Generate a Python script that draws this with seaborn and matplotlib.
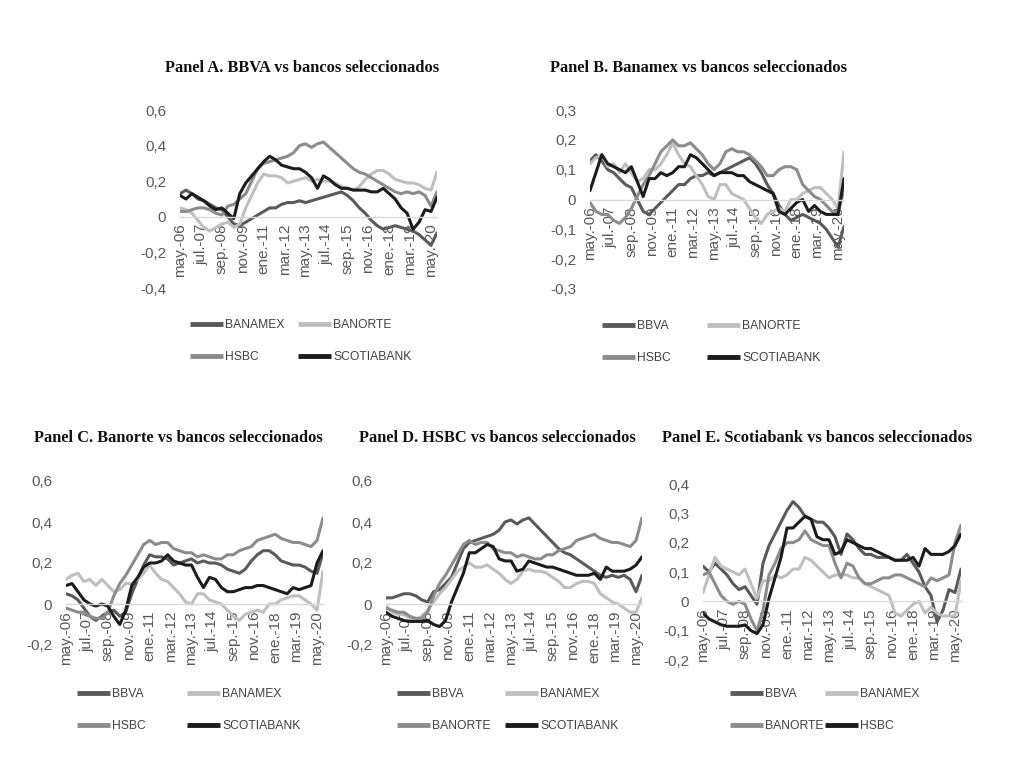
import numpy as np
import pandas as pd
import matplotlib
matplotlib.use("Agg")
import matplotlib.pyplot as plt
from matplotlib.lines import Line2D
from matplotlib.ticker import FuncFormatter
import seaborn as sns

# meses desde may-2006, un dato cada 4 meses
MESES = list(range(0, 173, 4))
TICKS_X = list(range(0, 169, 14))
ETIQUETAS_X = ["may.-06", "jul.-07", "sep.-08", "nov.-09", "ene.-11", "mar.-12", "may.-13",
               "jul.-14", "sep.-15", "nov.-16", "ene.-18", "mar.-19", "may.-20"]

# correlaciones por par de bancos
bbva_banamex = [0.13, 0.15, 0.13, 0.10, 0.09, 0.07, 0.05, 0.04, 0.00, -0.04, -0.05,
                -0.03, -0.01, 0.01, 0.03, 0.05, 0.05, 0.07, 0.08, 0.08, 0.09, 0.08,
                0.09, 0.10, 0.11, 0.12, 0.13, 0.14, 0.12, 0.09, 0.05, 0.02, -0.02,
                -0.05, -0.07, -0.06, -0.05, -0.06, -0.07, -0.08, -0.10, -0.13, -0.16, -0.09]
bbva_banorte = [0.05, 0.04, 0.02, -0.02, -0.06, -0.08, -0.06, -0.04, -0.03, -0.06, -0.04,
                0.05, 0.12, 0.19, 0.24, 0.23, 0.23, 0.22, 0.19, 0.20, 0.21, 0.22,
                0.20, 0.21, 0.20, 0.20, 0.19, 0.17, 0.16, 0.15, 0.17, 0.21, 0.24,
                0.26, 0.26, 0.24, 0.21, 0.20, 0.19, 0.19, 0.18, 0.16, 0.15, 0.25]
bbva_hsbc = [0.03, 0.03, 0.04, 0.05, 0.05, 0.04, 0.02, 0.01, 0.06, 0.07, 0.10,
             0.13, 0.20, 0.27, 0.30, 0.31, 0.32, 0.33, 0.34, 0.36, 0.40, 0.41,
             0.39, 0.41, 0.42, 0.39, 0.36, 0.33, 0.30, 0.27, 0.25, 0.24, 0.22,
             0.20, 0.18, 0.16, 0.14, 0.13, 0.14, 0.13, 0.14, 0.12, 0.06, 0.14]
bbva_scotia = [0.12, 0.10, 0.13, 0.11, 0.09, 0.06, 0.04, 0.05, 0.02, -0.01, 0.13,
               0.19, 0.23, 0.27, 0.31, 0.34, 0.32, 0.29, 0.28, 0.27, 0.27, 0.25,
               0.22, 0.16, 0.23, 0.21, 0.18, 0.16, 0.16, 0.15, 0.15, 0.15, 0.14,
               0.14, 0.16, 0.13, 0.10, 0.05, 0.02, -0.07, -0.03, 0.04, 0.03, 0.11]
banamex_banorte = [0.12, 0.14, 0.15, 0.11, 0.12, 0.09, 0.12, 0.09, 0.06, 0.07, 0.10,
                   0.10, 0.12, 0.15, 0.19, 0.15, 0.12, 0.11, 0.08, 0.05, 0.01, 0.00,
                   0.05, 0.05, 0.02, 0.01, 0.00, -0.03, -0.06, -0.08, -0.05, -0.04, -0.03,
                   -0.04, 0.00, 0.00, 0.02, 0.03, 0.04, 0.04, 0.02, 0.00, -0.03, 0.16]
banamex_hsbc = [-0.01, -0.04, -0.05, -0.05, -0.07, -0.08, -0.06, -0.03, 0.01, 0.05, 0.08,
                0.12, 0.16, 0.18, 0.20, 0.18, 0.18, 0.19, 0.17, 0.15, 0.12, 0.10,
                0.12, 0.16, 0.17, 0.16, 0.16, 0.15, 0.13, 0.11, 0.08, 0.08, 0.10,
                0.11, 0.11, 0.10, 0.05, 0.03, 0.01, 0.00, -0.02, -0.04, -0.04, 0.03]
banamex_scotia = [0.03, 0.09, 0.15, 0.12, 0.11, 0.10, 0.09, 0.11, 0.06, 0.01, 0.07,
                  0.07, 0.09, 0.08, 0.09, 0.11, 0.11, 0.15, 0.14, 0.12, 0.10, 0.08,
                  0.09, 0.09, 0.09, 0.08, 0.08, 0.06, 0.05, 0.04, 0.03, 0.02, -0.04,
                  -0.05, -0.03, -0.01, 0.00, -0.04, -0.02, -0.04, -0.05, -0.05, -0.05, 0.07]
banorte_hsbc = [-0.02, -0.03, -0.04, -0.04, -0.06, -0.07, -0.07, -0.04, 0.04, 0.10, 0.14,
                0.19, 0.24, 0.29, 0.31, 0.29, 0.30, 0.30, 0.27, 0.26, 0.25, 0.25,
                0.23, 0.24, 0.23, 0.22, 0.22, 0.24, 0.24, 0.26, 0.27, 0.28, 0.31,
                0.32, 0.33, 0.34, 0.32, 0.31, 0.30, 0.30, 0.29, 0.28, 0.31, 0.42]
banorte_scotia = [0.09, 0.10, 0.06, 0.02, 0.00, -0.01, 0.00, -0.01, -0.06, -0.10, -0.03,
                  0.09, 0.13, 0.18, 0.20, 0.20, 0.21, 0.24, 0.21, 0.20, 0.19, 0.19,
                  0.13, 0.08, 0.13, 0.12, 0.08, 0.06, 0.06, 0.07, 0.08, 0.08, 0.09,
                  0.09, 0.08, 0.07, 0.06, 0.05, 0.08, 0.07, 0.08, 0.09, 0.20, 0.26]
hsbc_scotia = [-0.04, -0.06, -0.07, -0.08, -0.085, -0.085, -0.085, -0.08, -0.10, -0.11, -0.08,
               0.01, 0.08, 0.15, 0.25, 0.25, 0.27, 0.29, 0.28, 0.22, 0.21, 0.21,
               0.16, 0.17, 0.21, 0.20, 0.19, 0.18, 0.18, 0.17, 0.16, 0.15, 0.14,
               0.14, 0.14, 0.15, 0.12, 0.18, 0.16, 0.16, 0.16, 0.17, 0.19, 0.23]

TITULOS = ["Panel A. BBVA vs bancos seleccionados",
           "Panel B. Banamex vs bancos seleccionados",
           "Panel C. Banorte vs bancos seleccionados",
           "Panel D. HSBC vs bancos seleccionados",
           "Panel E. Scotiabank vs bancos seleccionados"]
BANCOS = [["BANAMEX", "BANORTE", "HSBC", "SCOTIABANK"],
          ["BBVA", "BANORTE", "HSBC", "SCOTIABANK"],
          ["BBVA", "BANAMEX", "HSBC", "SCOTIABANK"],
          ["BBVA", "BANAMEX", "BANORTE", "SCOTIABANK"],
          ["BBVA", "BANAMEX", "BANORTE", "HSBC"]]
SERIES = [[bbva_banamex, bbva_banorte, bbva_hsbc, bbva_scotia],
          [bbva_banamex, banamex_banorte, banamex_hsbc, banamex_scotia],
          [bbva_banorte, banamex_banorte, banorte_hsbc, banorte_scotia],
          [bbva_hsbc, banamex_hsbc, banorte_hsbc, hsbc_scotia],
          [bbva_scotia, banamex_scotia, banorte_scotia, hsbc_scotia]]
RANGOS_Y = [(-0.4, 0.6, 0.2), (-0.3, 0.3, 0.1), (-0.2, 0.6, 0.2), (-0.2, 0.6, 0.2), (-0.2, 0.4, 0.1)]

COLORES = ["#5a5a5a", "#bfbfbf", "#8c8c8c", "#1c1c1c"]

# posiciones en pixeles: (izq, arriba, der, abajo) del area de trazado
CAJAS = [(180, 110, 437, 288), (590, 110, 844, 289), (66, 481, 323, 645),
         (386, 481, 642, 645), (703, 484, 961, 660)]
POS_TITULO = [(302, 68), (698, 68), (178, 438), (497, 438), (817, 438)]
POS_LEYENDA = [(190, 298, 325), (602, 707, 326), (77, 187, 694), (397, 505, 694), (730, 825, 694)]

W, H = 1022, 769
sns.set_style("white")
plt.rcParams["font.family"] = ["Liberation Sans", "DejaVu Sans"]

fig = plt.figure(figsize=(W / 100, H / 100), dpi=100)


def fx(px):
    return px / W


def fy(py):
    return 1 - py / H


def fmt_y(v, _):
    if abs(v) < 1e-9:
        return "0"
    return f"{v:.1f}".replace(".", ",")


for i in range(5):
    l, t, r, b = CAJAS[i]
    ax = fig.add_axes([fx(l), fy(b), fx(r) - fx(l), fy(t) - fy(b)])
    df = pd.concat([pd.DataFrame({"mes": MESES, "rho": s, "banco": n})
                    for n, s in zip(BANCOS[i], SERIES[i])], ignore_index=True)
    sns.lineplot(data=df, x="mes", y="rho", hue="banco", hue_order=BANCOS[i],
                 palette=COLORES, linewidth=2.2, legend=False, ax=ax)

    lo, hi, paso = RANGOS_Y[i]
    ax.set_xlim(0, 172)
    ax.set_ylim(lo, hi)
    for lado in ["top", "right", "left"]:
        ax.spines[lado].set_visible(False)
    # set_position reinicia los ticks, por eso va antes del formato
    ax.spines["bottom"].set_position(("data", 0))
    ax.spines["bottom"].set_color("#d9d9d9")
    ax.spines["bottom"].set_linewidth(1.0)
    ax.set_yticks(np.round(np.arange(lo, hi + paso / 2, paso), 2))
    ax.yaxis.set_major_formatter(FuncFormatter(fmt_y))
    ax.set_xticks(TICKS_X)
    ax.set_xticklabels(ETIQUETAS_X)
    ax.set_xlabel("")
    ax.set_ylabel("")
    ax.set_axisbelow(True)
    ax.tick_params(axis="x", length=3, color="#d9d9d9", labelsize=11, labelcolor="#595959",
                   pad=2, labelrotation=90)
    ax.tick_params(axis="y", length=0, labelsize=11, labelcolor="#595959", pad=10)
    ax.set_facecolor("none")

    tx, ty = POS_TITULO[i]
    fig.text(fx(tx), fy(ty), TITULOS[i], ha="center", va="center",
             family="Liberation Serif", weight="bold", fontsize=11.8, color="#111111")

    x1, x2, yl = POS_LEYENDA[i]
    for col, xc in zip([(0, 2), (1, 3)], [x1, x2]):
        hs = [Line2D([], [], color=COLORES[k], lw=3.5, solid_capstyle="butt") for k in col]
        fig.legend(hs, [BANCOS[i][k] for k in col], loc="upper left",
                   bbox_to_anchor=(fx(xc), fy(yl - 6)), frameon=False,
                   borderpad=0, borderaxespad=0, handlelength=2.7, handletextpad=0.2,
                   labelspacing=1.65, prop={"family": "Liberation Sans", "size": 8.7},
                   labelcolor="#404040")

fig.savefig("out.png", dpi=100)
